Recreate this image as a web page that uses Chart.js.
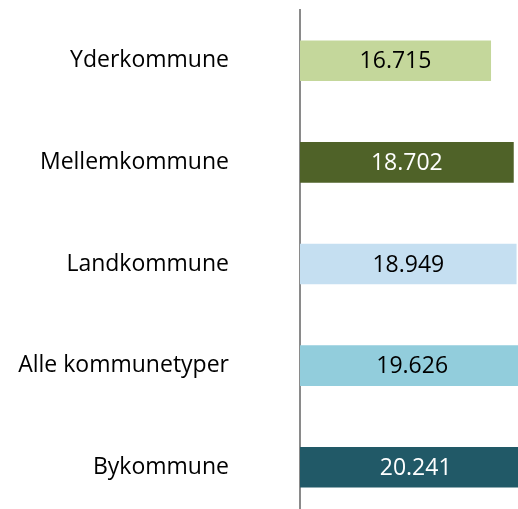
<!DOCTYPE html>
<html>
<head>
<meta charset="utf-8">
<script src="https://cdn.jsdelivr.net/npm/chart.js@4"></script>
<style>
  html, body { margin: 0; padding: 0; background: #ffffff; overflow: hidden; }
  #wrap { width: 518px; height: 509px; overflow: hidden; position: relative; }
  canvas { display: block; }
</style>
</head>
<body>
<div id="wrap"><canvas id="c" width="540" height="520"></canvas></div>
<script>
const categories = ['Yderkommune', 'Mellemkommune', 'Landkommune', 'Alle kommunetyper', 'Bykommune'];
const values = [16.715, 18.702, 18.949, 19.626, 20.241];
const valueLabels = ['16.715', '18.702', '18.949', '19.626', '20.241'];
const barColors = ['#c4d79b', '#4f6228', '#c5dff1', '#92cddc', '#215967'];
const labelColors = ['#000000', '#ffffff', '#000000', '#000000', '#ffffff'];

const FONT = "'Open Sans', 'DejaVu Sans', sans-serif";

const valueLabelPlugin = {
  id: 'valueLabels',
  afterDatasetsDraw(chart) {
    const ctx = chart.ctx;
    const meta = chart.getDatasetMeta(0);
    ctx.save();
    ctx.font = '23px ' + FONT;
    ctx.textAlign = 'center';
    ctx.textBaseline = 'middle';
    meta.data.forEach((bar, i) => {
      const cx = (bar.base + bar.x) / 2;
      ctx.fillStyle = labelColors[i];
      ctx.fillText(valueLabels[i], cx, bar.y + 1);
    });
    ctx.restore();
  }
};

new Chart(document.getElementById('c'), {
  type: 'bar',
  data: {
    labels: categories,
    datasets: [{
      data: values,
      backgroundColor: barColors,
      borderWidth: 0,
      barPercentage: 0.4,
      categoryPercentage: 1.0
    }]
  },
  options: {
    indexAxis: 'y',
    responsive: false,
    animation: false,
    devicePixelRatio: 1,
    layout: { padding: { top: 10, bottom: 2, left: 0, right: 0 } },
    plugins: { legend: { display: false }, tooltip: { enabled: false } },
    scales: {
      x: {
        display: false,
        min: 0,
        max: 21
      },
      y: {
        grid: { display: false, drawTicks: false },
        border: { display: true, color: '#8a8a8a', width: 2 },
        ticks: {
          color: '#000000',
          font: { family: FONT, size: 23 },
          padding: 71
        },
        afterFit(scale) {
          scale.width = 300;
          scale.paddingTop = 0;
          scale.paddingBottom = 0;
        }
      }
    }
  },
  plugins: [valueLabelPlugin]
});
</script>
</body>
</html>
